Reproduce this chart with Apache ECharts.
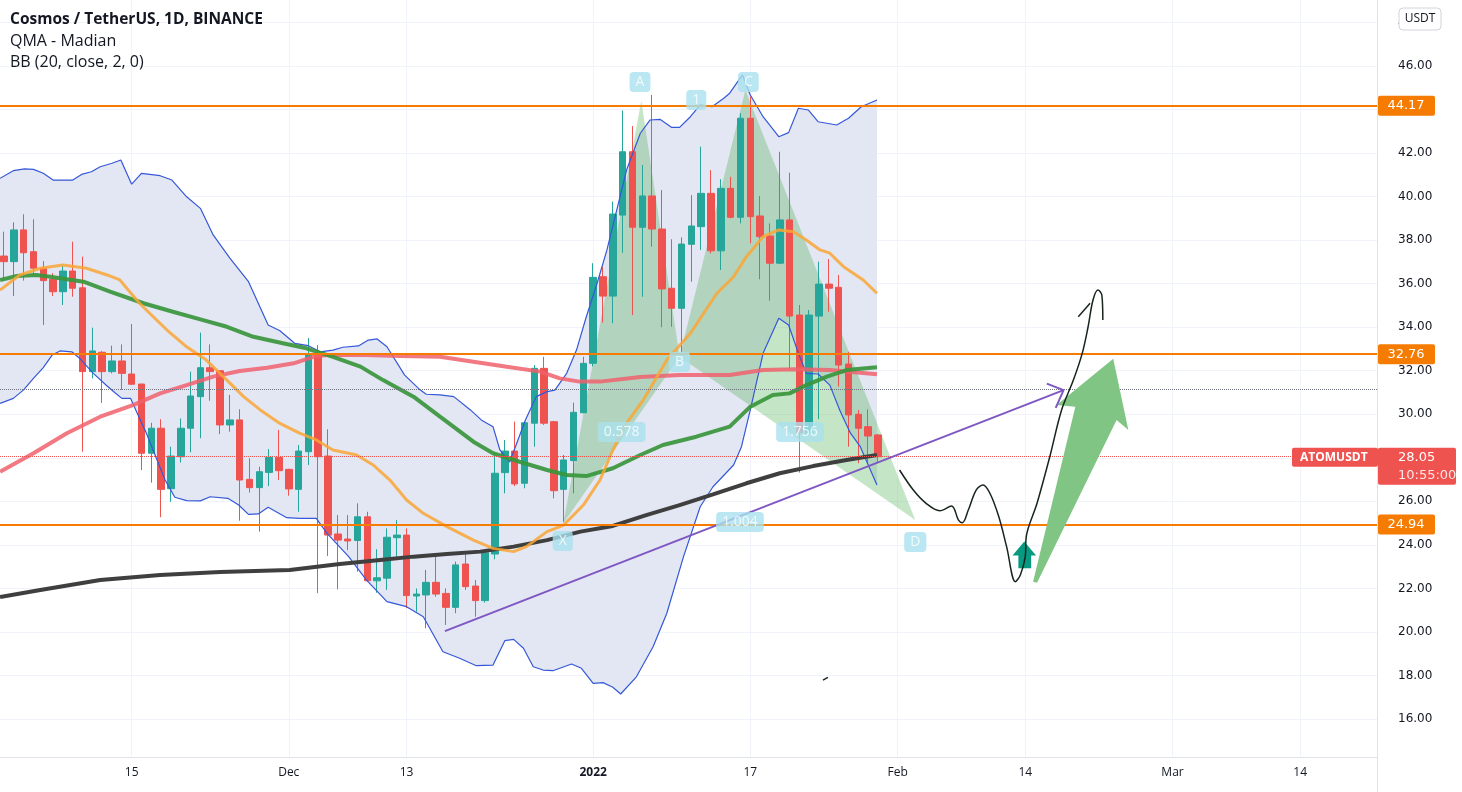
<!DOCTYPE html>
<html><head><meta charset="utf-8">
<script src="https://cdn.jsdelivr.net/npm/echarts@6/dist/echarts.min.js"></script>
<style>html,body{margin:0;padding:0;background:#fff}#c{width:1462px;height:792px}</style>
</head><body><div id="c"></div>
<script>
// ---- axis ticks ----
const xTickDays = [13, 29, 41, 60, 76, 91, 104, 119, 132];   // day index (0 = 2021-11-02)
const xTickLabels = ['15', 'Dec', '13', '2022', '17', 'Feb', '14', 'Mar', '14'];
const yGridValues = [16,18,20,22,24,26,28,30,32,34,36,38,40,42,44,46,48];
const yLabelValues = [16,18,20,22,24,26,30,32,34,36,38,40,42,46,48];

// ---- daily candles, 2021-11-02 .. 2022-01-30 ----
const open = [37.27,37.01,38.47,37.47,36.71,36.20,35.63,36.58,35.81,31.96, 32.85,31.96,32.45,31.85,31.39,28.21,29.36,26.58,28.05,29.36, 30.81,32.14,32.00,29.51,29.74,27.01,26.63,27.33,28.02,27.47, 26.55,28.28,32.72,28.08,24.50,24.27,24.20,25.29,22.35,22.47, 24.33,24.45,21.65,21.70,22.28,21.77,21.13,23.12,22.11,21.44, 23.58,27.32,28.31,26.83,29.59,32.11,29.66,26.55,27.87,30.07, 32.34,36.32,35.43,39.15,42.06,38.59,40.03,38.51,35.79,34.87, 37.81,38.62,40.15,37.51,40.38,39.05,43.60,39.11,38.19,36.94, 38.93,34.56,29.15,34.51,35.98,35.83,32.31,30.00,29.43,29.05];
const high = [38.39,38.82,39.19,38.96,37.04,36.48,36.86,37.93,37.24,33.98, 32.90,33.15,33.21,34.15,31.39,29.61,29.77,28.51,29.81,31.96, 33.75,33.21,32.00,30.89,30.23,27.98,27.59,28.40,29.28,27.50, 28.59,33.50,33.18,29.31,25.37,25.37,25.91,25.52,23.80,24.76, 25.14,24.76,22.00,22.85,23.61,22.00,23.23,23.64,22.39,23.70, 28.21,28.82,29.66,29.66,32.26,32.64,29.70,28.13,30.53,32.64, 36.94,36.78,39.77,43.95,43.24,41.45,44.67,40.30,38.04,38.13, 40.07,42.29,41.22,40.80,40.91,43.83,44.60,40.03,38.77,42.06, 41.10,35.02,34.79,37.01,37.13,36.40,32.87,30.20,30.23,29.10];
const low = [36.17,35.43,36.14,36.40,34.10,35.43,35.02,35.40,28.28,31.65, 30.52,31.88,31.12,31.35,27.44,26.86,25.27,25.98,27.78,28.25, 28.90,30.62,29.09,29.20,25.11,26.40,24.61,26.70,26.98,26.26, 25.52,27.67,21.78,23.49,21.96,23.76,22.77,22.30,21.80,21.93, 23.38,21.09,20.93,20.17,21.62,20.32,20.86,21.93,20.70,21.35, 23.34,26.37,26.70,26.60,28.51,29.51,26.14,25.06,26.37,30.05, 32.20,34.21,34.18,37.42,34.56,35.40,37.70,34.00,34.02,32.87, 36.09,37.55,37.39,36.63,39.00,38.77,37.85,36.20,35.22,36.90, 32.07,27.32,29.12,29.77,34.71,31.27,28.51,27.75,27.75,27.75];
const close = [37.01,38.47,37.42,36.71,36.14,35.63,36.58,35.79,31.96,32.91, 31.96,32.45,31.88,31.38,28.21,29.36,26.55,28.08,29.36,30.84, 32.14,31.96,29.51,29.74,26.98,26.63,27.36,28.02,27.41,26.57, 28.31,32.72,28.05,24.45,24.22,24.18,25.29,22.35,22.49,24.35, 24.45,21.67,21.74,22.28,21.74,21.13,23.08,22.08,21.44,23.64, 27.29,28.31,26.80,29.61,32.11,29.59,26.49,27.90,30.09,32.34, 36.29,35.43,39.20,42.06,38.59,40.03,38.51,35.76,34.87,37.82, 38.65,40.15,37.51,40.38,39.05,43.60,39.08,38.16,36.94,38.93, 34.51,29.15,34.56,35.98,35.79,32.26,29.97,29.36,29.00,28.05];

// ---- Bollinger bands ([day, price]) ----
const bbUpper = [[-0.4,40.84],[0.95,41.19],[2.1,41.27],[3.0,41.25],[4.0,41.07],[5.0,40.76],[7.0,40.76],[7.9,41.02],[8.9,41.14],[9.8,41.37],[11.0,41.53],[11.9,41.68],[13.0,40.57],[14.0,41.07],[15.9,40.96],[17.1,40.76],[18.6,39.99],[20.0,39.46],[21.3,38.24],[23.0,37.17],[24.9,36.09],[26.9,34.10],[28.1,33.84],[29.6,33.26],[31.0,33.15],[32.2,32.87],[33.5,32.95],[34.5,33.08],[36.1,33.14],[37.1,33.41],[38.0,33.46],[39.0,33.10],[40.8,31.80],[42.4,31.11],[43.0,30.92],[44.4,30.89],[45.8,30.81],[47.5,30.20],[48.6,29.74],[49.8,29.43],[50.5,28.36],[51.5,27.81],[53.1,29.74],[54.2,30.81],[55.3,31.04],[56.1,31.11],[57.3,31.88],[58.3,32.95],[59.3,34.48],[60.4,36.02],[61.4,37.55],[63.4,41.22],[64.8,42.91],[65.8,43.52],[66.8,43.55],[68.0,43.18],[68.8,43.18],[69.9,43.67],[70.9,44.21],[72.1,44.13],[73.3,44.52],[73.9,44.75],[75.2,45.59],[76.0,44.67],[77.3,43.67],[78.9,42.75],[79.9,42.94],[80.9,44.06],[81.9,43.98],[82.9,43.44],[84.8,43.29],[86.0,43.60],[87.3,44.13],[88.9,44.44]];
const bbLower = [[-0.4,30.50],[0.95,30.73],[2.0,31.12],[3.0,31.65],[4.0,32.14],[4.9,32.72],[5.7,32.91],[6.9,32.87],[7.7,32.57],[9.1,31.88],[10.5,31.30],[11.3,30.99],[12.0,30.73],[12.9,30.73],[13.5,30.12],[14.5,29.13],[16.4,26.98],[17.4,26.19],[18.6,26.03],[20.0,26.02],[21.0,26.21],[22.8,26.14],[23.9,25.83],[24.9,25.40],[25.9,25.42],[26.9,25.73],[28.8,25.25],[30.1,25.22],[31.8,25.22],[32.9,24.53],[35.1,23.46],[36.9,22.39],[39.0,21.39],[41.0,21.16],[42.7,20.70],[44.7,19.09],[46.4,18.79],[48.1,18.45],[49.8,18.48],[51.0,19.60],[51.9,19.66],[52.9,19.25],[53.9,18.40],[54.9,18.25],[55.9,18.22],[57.8,18.53],[58.8,18.33],[60.0,17.64],[61.0,17.67],[62.0,17.46],[62.8,17.15],[64.4,17.94],[66.1,19.32],[67.5,20.86],[69.2,23.46],[70.9,25.75],[72.2,26.67],[74.3,27.67],[75.1,28.51],[76.0,30.20],[77.3,32.80],[78.9,34.41],[79.9,34.10],[80.9,32.80],[81.7,31.88],[82.9,31.85],[84.1,31.34],[85.1,30.20],[86.2,29.13],[87.2,28.51],[88.9,26.75]];

// ---- moving averages ----
const maOrange = [[-0.4,35.71],[1.6,36.40],[3.7,36.71],[6.0,36.86],[8.4,36.71],[10.5,36.40],[11.8,36.17],[12.8,35.63],[13.8,35.10],[15.2,34.48],[16.6,33.87],[18.6,33.10],[20.6,32.49],[22.7,31.57],[24.4,30.81],[26.1,30.20],[28.1,29.58],[30.1,29.13],[31.8,28.82],[33.5,28.36],[35.9,28.13],[37.6,27.67],[39.3,26.98],[41.0,26.06],[42.7,25.45],[45.1,24.84],[47.8,24.22],[49.8,23.84],[51.9,23.69],[53.2,23.92],[55.3,24.61],[57.0,24.91],[59.0,25.83],[60.7,26.98],[62.0,28.36],[63.4,29.58],[65.1,30.66],[67.5,32.49],[69.9,33.72],[72.6,35.56],[74.3,36.32],[75.6,37.24],[77.3,38.16],[78.9,38.47],[80.4,38.39],[81.7,38.01],[83.1,37.55],[84.1,37.40],[85.5,36.78],[87.5,36.17],[88.9,35.56]];
const maGreen = [[-0.4,36.17],[1.3,36.35],[3.3,36.40],[4.7,36.32],[8.1,36.09],[10.8,35.63],[14.2,35.10],[17.2,34.71],[20.0,34.36],[22.7,34.02],[25.4,33.56],[28.4,33.26],[30.8,33.03],[33.5,32.64],[36.3,32.19],[38.6,31.57],[41.7,30.81],[44.4,29.89],[47.8,28.74],[49.8,28.21],[52.5,27.82],[55.3,27.44],[57.3,27.21],[59.3,27.16],[62.0,27.52],[64.8,28.13],[67.1,28.59],[70.5,28.97],[73.9,29.43],[76.0,30.35],[78.3,30.89],[80.0,30.96],[81.7,31.34],[83.8,31.73],[85.8,32.03],[88.9,32.16]];
const maRed = [[-0.4,27.36],[3.0,28.21],[6.4,29.13],[9.8,29.89],[13.2,30.43],[15.9,30.96],[18.6,31.34],[21.3,31.73],[24.0,31.99],[26.8,32.14],[29.5,32.34],[31.5,32.64],[32.9,32.72],[36.9,32.72],[40.3,32.68],[44.4,32.64],[47.8,32.41],[51.2,32.18],[54.6,31.96],[56.6,31.65],[58.6,31.50],[60.7,31.50],[64.8,31.71],[68.8,31.80],[73.9,31.80],[77.3,32.03],[80.7,32.07],[84.1,32.03],[88.9,31.84]];
const maBlack = [[-0.4,21.60],[3.7,21.93],[9.8,22.39],[15.9,22.62],[22.0,22.75],[29.1,22.85],[34.2,23.12],[38.3,23.31],[41.7,23.46],[45.1,23.58],[48.5,23.69],[51.9,23.92],[55.3,24.22],[58.7,24.61],[62.0,24.87],[65.4,25.37],[68.8,25.83],[72.2,26.32],[75.6,26.83],[79.0,27.29],[82.4,27.62],[85.8,27.90],[88.9,28.13]];

// ---- horizontal levels ----
const levels = [44.17, 32.76, 24.94];
const grayDotted = 31.16;
const lastPrice = 28.05;

// ---- harmonic XABCD pattern ----
const patX = [56.96, 24.99], patA = [64.9, 44.40], patB = [68.8, 32.64], patC = [75.5, 44.90], patD = [92.8, 25.14];
const patternLabels = [
  {name:'A', value:[64.77,45.26]}, {name:'1', value:[70.5,44.44]}, {name:'C', value:[75.8,45.26]},
  {name:'B', value:[68.8,32.40]}, {name:'0.578', value:[62.9,29.19]}, {name:'1.756', value:[81.06,29.19]},
  {name:'X', value:[56.9,24.18]}, {name:'1.004', value:[74.95,25.05]}, {name:'D', value:[92.8,24.13]}
];

// ---- drawings ----
const trendLine = [[44.9,20.04],[107.9,31.11]];
const trendHead = [[106.2,31.41],[107.9,31.11],[107.1,30.29]];
const handCurve = [[91.2,27.44],[92.6,26.52],[93.9,25.91],[95.3,25.57],[96.5,25.79],[97.2,25.14],[97.6,25.02],[98.2,25.60],[99.0,26.52],[99.7,26.75],[100.4,26.37],[101.3,25.30],[102.1,23.92],[103.0,22.31],[103.5,22.62],[104.0,23.46],[104.1,24.38],[105.2,25.91],[106.5,28.05],[107.7,30.20],[108.9,31.57],[109.8,32.80],[110.4,34.02],[110.9,35.25],[111.4,35.71],[111.8,35.48],[111.9,34.33]];
const handTick = [[109.4,34.48],[110.6,35.10]];
const handDash = [[83.4,17.79],[83.9,17.91]];
const bigArrow = [[104.8,22.31],[109.1,30.35],[107.2,30.43],[112.96,32.55],[114.5,29.28],[113.3,29.74],[105.2,22.26]];
const smallArrow = [[103.9,24.15],[105.1,23.51],[104.6,23.51],[104.6,22.93],[103.3,22.93],[103.3,23.51],[102.7,23.51]];

const X_MIN = -0.407, X_MAX = 139.82, Y_MIN = 14.255, Y_MAX = 49.032;
const FONT = '"Open Sans", "Noto Sans", sans-serif';

const chart = echarts.init(document.getElementById('c'));

function polygon(name, pts, fill, z) {
  return { type:'custom', name, z, silent:true, data:[pts[0]], encode:{x:0,y:1},
    renderItem:(params, api) => ({ type:'polygon', shape:{points: pts.map(p => api.coord(p))}, style:{fill} }) };
}
function line(data, color, width, z, extra) {
  return Object.assign({ type:'line', data, symbol:'none', silent:true, z,
    lineStyle:{color, width} }, extra || {});
}

const candleData = open.map((o, i) => [i, o, close[i], low[i], high[i]]);

const option = {
  animation:false,
  backgroundColor:'#ffffff',
  grid:{left:0, right:85, top:0, bottom:35},
  xAxis:{ type:'value', min:X_MIN, max:X_MAX,
    axisLine:{show:true, onZero:false, lineStyle:{color:'#e0e3eb'}},
    axisTick:{show:false, customValues:xTickDays},
    splitLine:{show:true, lineStyle:{color:'#f0f3fa'}},
    axisLabel:{ customValues:xTickDays, margin:10, color:'#131722', fontSize:12, fontFamily:FONT,
      formatter: v => { const t = xTickLabels[xTickDays.indexOf(Math.round(v))]; return t === '2022' ? '{b|2022}' : t; },
      rich:{ b:{fontWeight:'bold', fontSize:12, color:'#131722', fontFamily:FONT} } } },
  yAxis:{ type:'value', position:'right', min:Y_MIN, max:Y_MAX,
    axisLine:{show:true, onZero:false, lineStyle:{color:'#e0e3eb'}},
    axisTick:{show:false, customValues:yGridValues},
    splitLine:{show:true, lineStyle:{color:'#f0f3fa'}},
    axisLabel:{ customValues:yLabelValues, margin:21, color:'#131722', fontSize:12, fontFamily:'"DejaVu Sans", sans-serif',
      formatter: v => v.toFixed(2) } },
  series:[
    polygon('bbfill', bbUpper.concat(bbLower.slice().reverse()), '#e3e6f3', 1),
    polygon('XAB', [patX, patA, patB], 'rgba(76,175,80,0.32)', 2),
    polygon('BCD', [patB, patC, patD], 'rgba(76,175,80,0.32)', 2),
    { type:'candlestick', z:3, silent:true, data:candleData, encode:{x:0, y:[1,2,3,4]}, barWidth:7,
      itemStyle:{ color:'#26a69a', color0:'#ef5350', borderColor:'#26a69a', borderColor0:'#ef5350', borderWidth:1 } },
    line(bbUpper, '#3558d8', 1.2, 4),
    line(bbLower, '#3558d8', 1.2, 4),
    line(maRed, 'rgba(240,96,108,0.85)', 4, 4),
    line(maBlack, '#3f3f3f', 4, 4),
    line(maGreen, 'rgba(56,150,60,0.92)', 4, 4),
    line(maOrange, 'rgba(250,166,52,0.85)', 3, 4),
    { type:'line', data:[], z:5, silent:true,
      markLine:{ symbol:'none', silent:true, animation:false, label:{show:false},
        data:[
          ...levels.map(v => ({yAxis:v, lineStyle:{color:'#f57c00', width:2, type:'solid'}})),
          {yAxis:grayDotted, lineStyle:{color:'#6f7380', width:1, type:'dotted'}},
          {yAxis:lastPrice, lineStyle:{color:'#ef5350', width:1, type:'dotted'}}
        ] } },
    line(trendLine, '#7e57c2', 2, 6),
    line(trendHead, '#7e57c2', 2, 6),
    line(handCurve, '#17251c', 1.5, 6, {smooth:0.35}),
    line(handTick, '#17251c', 1.5, 6),
    line(handDash, '#17251c', 1.5, 6),
    polygon('bigArrow', bigArrow, '#80c583', 6),
    polygon('smallArrow', smallArrow, '#089981', 6),
    { type:'scatter', z:8, silent:true, symbolSize:0, data:patternLabels,
      label:{ show:true, position:'inside', formatter:'{b}', backgroundColor:'#a9e1ee', color:'#ffffff',
        borderRadius:4, padding:[3,6], fontSize:14, fontFamily:FONT } }
  ]
};
chart.setOption(option);

// axis-side tags, title texts
const yPix = v => chart.convertToPixel({yAxisIndex:0}, v);
const g = [];
function txt(x, y, text, font, fill, align) {
  return { type:'text', x, y, z:100, silent:true,
    style:{ text, font, fill, align:align||'left', verticalAlign:'middle', textAlign:align||'left', textVerticalAlign:'middle' } };
}
levels.forEach(v => {
  const y = yPix(v);
  g.push({ type:'rect', z:99, silent:true, shape:{x:1378, y:y-10, width:57, height:20, r:2}, style:{fill:'#f57c00'} });
  g.push(txt(1406, y, v.toFixed(2), '13px "DejaVu Sans", sans-serif', '#ffffff', 'center'));
});
const yp = yPix(lastPrice);
g.push({ type:'rect', z:99, silent:true, shape:{x:1292, y:yp-9, width:86, height:19, r:2}, style:{fill:'#ef5350'} });
g.push(txt(1300, yp+0.5, 'ATOMUSDT', 'bold 12px ' + FONT, '#ffffff'));
g.push({ type:'rect', z:99, silent:true, shape:{x:1378, y:yp-9, width:78, height:37, r:2}, style:{fill:'#ef5350'} });
g.push(txt(1398, yp+0.5, lastPrice.toFixed(2), '13px "DejaVu Sans", sans-serif', '#ffffff'));
g.push(txt(1398, yp+18.5, '10:55:00', '13px "DejaVu Sans", sans-serif', 'rgba(255,255,255,0.85)'));
g.push({ type:'rect', z:99, silent:true, shape:{x:1399, y:8, width:42, height:22, r:4}, style:{fill:'#ffffff', stroke:'#d1d4dc', lineWidth:1} });
g.push(txt(1420, 19, 'USDT', '12px ' + FONT, '#131722', 'center'));
g.push(txt(10, 20, 'Cosmos / TetherUS, 1D, BINANCE', 'bold 15.5px ' + FONT, '#131722'));
g.push(txt(10, 41, 'QMA - Madian', '16px ' + FONT, '#131722'));
g.push(txt(10, 62, 'BB (20, close, 2, 0)', '16px ' + FONT, '#131722'));
g.push({ type:'line', z:99, silent:true, shape:{x1:1377.5, y1:757, x2:1377.5, y2:792}, style:{stroke:'#e0e3eb', lineWidth:1} });
chart.setOption({ graphic:{ elements:g } });
</script>
</body></html>
